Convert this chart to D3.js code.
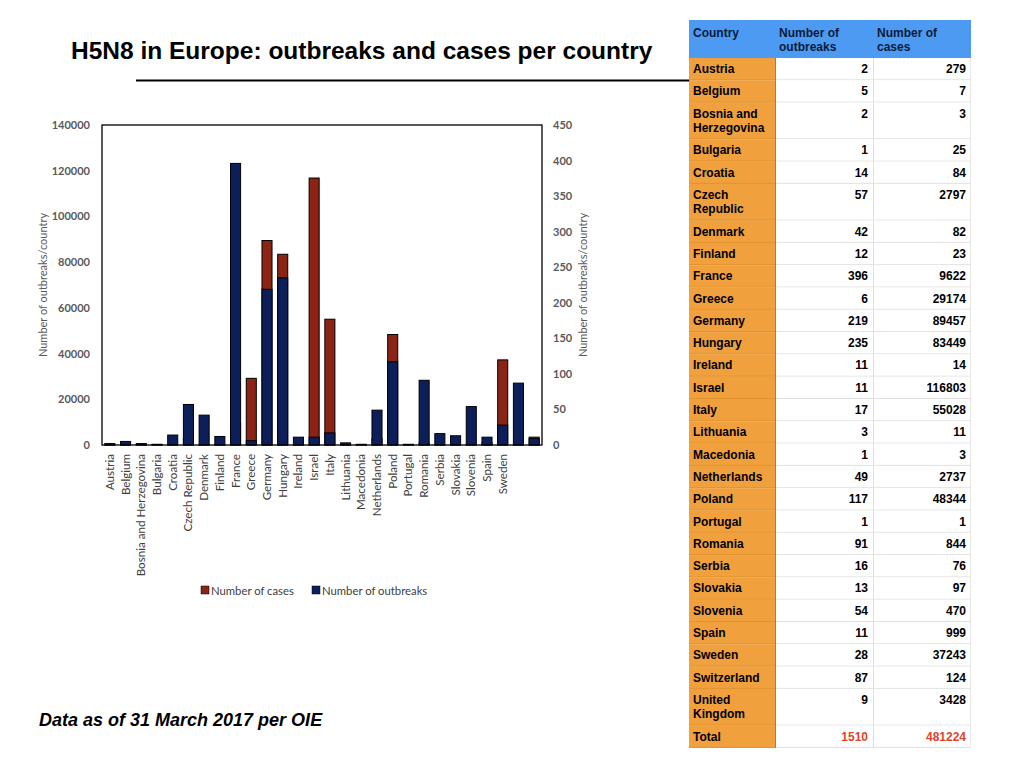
<!DOCTYPE html>
<html><head><meta charset="utf-8">
<script src="https://cdn.jsdelivr.net/npm/d3@7"></script>
<style>
body{margin:0;background:#fff;}
svg{display:block;}
</style></head>
<body>
<svg id="c" width="1024" height="768"></svg>
<script>
// ---- data ----
const countries = ["Austria","Belgium","Bosnia and Herzegovina","Bulgaria","Croatia","Czech Republic","Denmark","Finland","France","Greece","Germany","Hungary","Ireland","Israel","Italy","Lithuania","Macedonia","Netherlands","Poland","Portugal","Romania","Serbia","Slovakia","Slovenia","Spain","Sweden","Switzerland","United Kingdom"];
const outbreaks = [2,5,2,1,14,57,42,12,396,6,219,235,11,11,17,3,1,49,117,1,91,16,13,54,11,28,87,9];
const cases = [279,7,3,25,84,2797,82,23,9622,29174,89457,83449,14,116803,55028,11,3,2737,48344,1,844,76,97,470,999,37243,124,3428];
const axisLabels = countries.slice(0,26); // labels shown under the chart
const tableLabels = ["Austria","Belgium","Bosnia and|Herzegovina","Bulgaria","Croatia","Czech|Republic","Denmark","Finland","France","Greece","Germany","Hungary","Ireland","Israel","Italy","Lithuania","Macedonia","Netherlands","Poland","Portugal","Romania","Serbia","Slovakia","Slovenia","Spain","Sweden","Switzerland","United|Kingdom"];
const leftTicks = [0,20000,40000,60000,80000,100000,120000,140000];
const rightTicks = [0,50,100,150,200,250,300,350,400,450];
const totals = {outbreaks:1510, cases:481224};

const svg = d3.select("#c");
const RED = "#8c2416", NAVY = "#0c1f5b";

// ---- title ----
svg.append("text").attr("x",71).attr("y",59)
  .attr("font-family","Liberation Sans, Arial, sans-serif").attr("font-weight","bold").attr("font-size",24.5)
  .attr("fill","#000").text("H5N8 in Europe: outbreaks and cases per country");
svg.append("line").attr("x1",136).attr("x2",690).attr("y1",80.5).attr("y2",80.5).attr("stroke","#000").attr("stroke-width",2);

// ---- chart ----
const L=102,R=542,T=125,B=445;
const x = d3.scaleBand().domain(countries).range([L,R]).paddingInner(0.36).paddingOuter(0.18);
const yL = d3.scaleLinear().domain([0,140000]).range([B,T]);
const yR = d3.scaleLinear().domain([0,450]).range([B,T]);
const g = svg.append("g");
const fontAx = "Lato, 'Open Sans', sans-serif";

g.append("g").selectAll("rect").data(countries).join("rect")
  .attr("x",d=>x(d)).attr("width",x.bandwidth())
  .attr("y",(d,i)=>yL(cases[i])).attr("height",(d,i)=>B-yL(cases[i]))
  .attr("fill",RED).attr("stroke","#000").attr("stroke-width",1);
g.append("g").selectAll("rect").data(countries).join("rect")
  .attr("x",d=>x(d)).attr("width",x.bandwidth())
  .attr("y",(d,i)=>yR(outbreaks[i])).attr("height",(d,i)=>B-yR(outbreaks[i]))
  .attr("fill",NAVY).attr("stroke","#000").attr("stroke-width",1);

g.append("rect").attr("x",L).attr("y",T).attr("width",R-L).attr("height",B-T)
  .attr("fill","none").attr("stroke","#000").attr("stroke-width",1.3);

const la = g.append("g").attr("transform",`translate(${L},0)`)
  .call(d3.axisLeft(yL).tickValues(leftTicks).tickSize(0).tickPadding(12).tickFormat(d3.format("d")));
la.select(".domain").remove();
la.selectAll("text").attr("font-family",fontAx).attr("font-size",11).attr("font-weight","bold").attr("fill","#595959");

const ra = g.append("g").attr("transform",`translate(${R},0)`)
  .call(d3.axisRight(yR).tickValues(rightTicks).tickSize(0).tickPadding(11).tickFormat(d3.format("d")));
ra.select(".domain").remove();
ra.selectAll("text").attr("font-family",fontAx).attr("font-size",11).attr("font-weight","bold").attr("fill","#595959");

const xa = g.append("g").attr("transform",`translate(0,${B})`)
  .call(d3.axisBottom(x).tickValues(axisLabels).tickSize(0).tickPadding(0));
xa.select(".domain").remove();
xa.selectAll("text").attr("font-family",fontAx).attr("font-size",11.6).attr("fill","#404040")
  .attr("text-anchor","end").attr("dy","0.35em")
  .attr("transform","translate(0,9) rotate(-90)").attr("x",0).attr("y",0);

svg.append("text").attr("transform","translate(47,285) rotate(-90)").attr("text-anchor","middle")
  .attr("font-family",fontAx).attr("font-size",11).attr("fill","#595959").text("Number of outbreaks/country");
svg.append("text").attr("transform","translate(587,285) rotate(-90)").attr("text-anchor","middle")
  .attr("font-family",fontAx).attr("font-size",11).attr("fill","#595959").text("Number of outbreaks/country");

// legend
const leg = svg.append("g").attr("font-family",fontAx).attr("font-size",11.3).attr("fill","#404040");
[["Number of cases",RED,201],["Number of outbreaks",NAVY,312]].forEach(([t,c,lx])=>{
  leg.append("rect").attr("x",lx).attr("y",586).attr("width",8).attr("height",8).attr("fill",c).attr("stroke","#000").attr("stroke-width",0.5);
  leg.append("text").attr("x",lx+10).attr("y",594.5).attr("fill","#404040").text(t);
});

// footer
svg.append("text").attr("x",39).attr("y",726)
  .attr("font-family","Liberation Sans, Arial, sans-serif").attr("font-weight","bold").attr("font-style","italic").attr("font-size",18)
  .text("Data as of 31 March 2017 per OIE");

// ---- table ----
const TX=[689,775,873,971];
const tb = svg.append("g").attr("font-family","Liberation Sans, Arial, sans-serif").attr("font-weight","bold").attr("font-size",12);
const headTop=20, headH=38;
tb.append("rect").attr("x",TX[0]).attr("y",headTop).attr("width",TX[3]-TX[0]).attr("height",headH).attr("fill","#4d9af2");
const hdr=[["Country"],["Number of","outbreaks"],["Number of","cases"]];
hdr.forEach((lines,ci)=>{
  lines.forEach((s,li)=>tb.append("text").attr("x",TX[ci]+4).attr("y",headTop+17+li*14).attr("fill","#0a1a3c").text(s));
});
const rows = tableLabels.map((l,i)=>({label:l.split("|"),o:outbreaks[i],c:cases[i],total:false}));
rows.push({label:["Total"],o:totals.outbreaks,c:totals.cases,total:true});
let yy = headTop+headH;
rows.forEach(r=>{
  const h = r.label.length>1 ? 36.7 : 22.3;
  tb.append("rect").attr("x",TX[0]).attr("y",yy).attr("width",TX[1]-TX[0]).attr("height",h).attr("fill","#f0a03c");
  tb.append("rect").attr("x",TX[1]).attr("y",yy).attr("width",TX[3]-TX[1]).attr("height",h).attr("fill","#fff");
  tb.append("line").attr("x1",TX[0]).attr("x2",TX[1]).attr("y1",yy+h-0.5).attr("y2",yy+h-0.5).attr("stroke","#e2922e").attr("stroke-width",1);
  tb.append("line").attr("x1",TX[1]).attr("x2",TX[3]).attr("y1",yy+h-0.5).attr("y2",yy+h-0.5).attr("stroke","#e0e0e0").attr("stroke-width",1);
  r.label.forEach((s,li)=>tb.append("text").attr("x",TX[0]+4).attr("y",yy+15+li*14).attr("fill","#000").text(s));
  tb.append("text").attr("x",TX[2]-5).attr("y",yy+15).attr("text-anchor","end").attr("fill",r.total?"#e0442a":"#000").text(r.o);
  tb.append("text").attr("x",TX[3]-5).attr("y",yy+15).attr("text-anchor","end").attr("fill",r.total?"#e0442a":"#000").text(r.c);
  yy+=h;
});
tb.append("line").attr("x1",TX[1]+0.5).attr("x2",TX[1]+0.5).attr("y1",headTop+headH).attr("y2",yy).attr("stroke","#b07a3a").attr("stroke-width",1);
tb.append("line").attr("x1",TX[2]+0.5).attr("x2",TX[2]+0.5).attr("y1",headTop+headH).attr("y2",yy).attr("stroke","#e0e0e0").attr("stroke-width",1);
tb.append("line").attr("x1",TX[3]-0.5).attr("x2",TX[3]-0.5).attr("y1",headTop+headH).attr("y2",yy).attr("stroke","#e8e8e8").attr("stroke-width",1);
</script>
</body></html>
